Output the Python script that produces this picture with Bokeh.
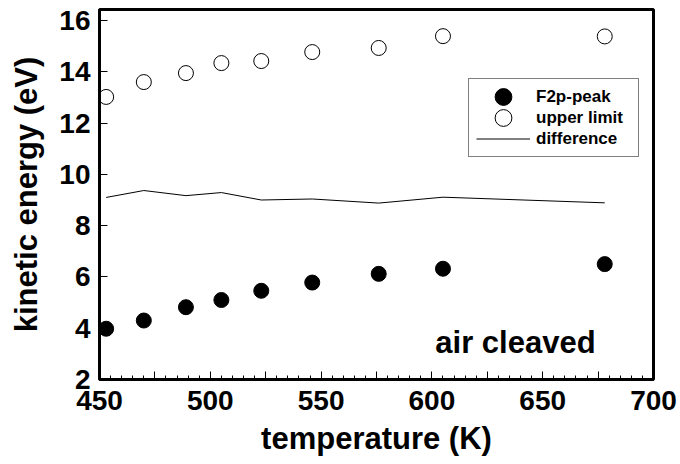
from bokeh.plotting import figure
from bokeh.models import (Range1d, FixedTicker, CustomJSTickFormatter, Legend, LegendItem, Label)
from bokeh.embed import file_html
from bokeh.resources import INLINE

# Data
temperature = [453, 470, 489, 505, 523, 546, 576, 605, 678]
f2p_peak = [3.98, 4.30, 4.82, 5.10, 5.46, 5.78, 6.12, 6.32, 6.50]
upper_limit = [13.02, 13.60, 13.95, 14.34, 14.42, 14.77, 14.93, 15.39, 15.38]
difference = [9.10, 9.37, 9.17, 9.29, 9.00, 9.04, 8.88, 9.11, 8.89]

x_ticks = [450, 475, 500, 525, 550, 575, 600, 625, 650, 675, 700]
x_minor = [v for v in range(450, 701, 5) if v % 25 != 0]
y_ticks = [2, 4, 6, 8, 10, 12, 14, 16]

FONT = "Liberation Sans"

p = figure(width=680, height=464, output_backend="svg", toolbar_location=None,
           x_range=Range1d(450, 700), y_range=Range1d(2, 16.43),
           min_border_left=99, min_border_right=27, min_border_top=9, min_border_bottom=85)
p.grid.visible = False
p.outline_line_color = "black"
p.outline_line_width = 3
p.background_fill_color = "white"
p.border_fill_color = "white"

# x axis
xa = p.xaxis[0]
xa.ticker = FixedTicker(ticks=x_ticks, minor_ticks=x_minor)
xa.formatter = CustomJSTickFormatter(code="return (Math.round(tick) % 50 === 0) ? String(Math.round(tick)) : '';")
xa.axis_label = "temperature (K)"
# y axis
ya = p.yaxis[0]
ya.ticker = FixedTicker(ticks=y_ticks, minor_ticks=[])
ya.axis_label = "kinetic energy (eV)"

for ax in (xa, ya):
    ax.axis_line_width = 3
    ax.axis_line_color = "black"
    ax.major_tick_in = 8
    ax.major_tick_out = 0
    ax.minor_tick_in = 4
    ax.minor_tick_out = 0
    ax.major_tick_line_color = "black"
    ax.minor_tick_line_color = "black"
    ax.major_tick_line_width = 1
    ax.minor_tick_line_width = 1
    ax.major_label_text_font = FONT
    ax.major_label_text_font_style = "bold"
    ax.major_label_text_font_size = "28px"
    ax.major_label_text_color = "black"
    ax.axis_label_text_font = FONT
    ax.axis_label_text_font_style = "bold"
    ax.axis_label_text_font_size = "31px"
    ax.axis_label_text_color = "black"

xa.major_label_standoff = 11
xa.axis_label_standoff = 8
ya.major_label_standoff = 9
ya.axis_label_standoff = 12

r_diff = p.line(temperature, difference, line_color="black", line_width=1)
r_up = p.ellipse(temperature, upper_limit, width=15, height=15,
                 width_units="screen", height_units="screen",
                 fill_color="white", line_color="black", line_width=1)
r_f2p = p.ellipse(temperature, f2p_peak, width=15, height=15,
                  width_units="screen", height_units="screen",
                  fill_color="black", line_color="black")

legend = Legend(items=[LegendItem(label="F2p-peak", renderers=[r_f2p]),
                       LegendItem(label="upper limit", renderers=[r_up]),
                       LegendItem(label="difference", renderers=[r_diff])],
                location=(369, 222), glyph_width=54, glyph_height=21, label_height=21,
                label_width=95, spacing=0, padding=7, margin=0, label_standoff=6,
                label_text_font=FONT, label_text_font_style="bold", label_text_font_size="17px",
                label_text_color="black",
                border_line_color="black", border_line_width=1, background_fill_alpha=1)
p.add_layout(legend)

p.add_layout(Label(x=637.7, y=3.456, text="air cleaved", text_align="center", text_baseline="alphabetic",
                   text_font=FONT, text_font_style="bold", text_font_size="31px", text_color="black"))

open("out.html", "w").write(file_html(p, INLINE))
